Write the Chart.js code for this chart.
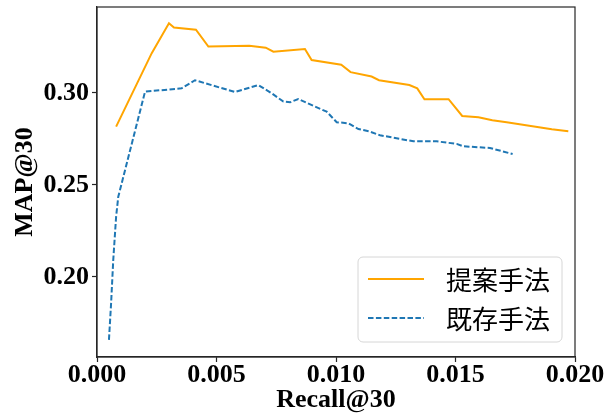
<!DOCTYPE html>
<html>
<head>
<meta charset="utf-8">
<script src="https://cdn.jsdelivr.net/npm/chart.js@4"></script>
<style>
  body { margin: 0; background: #fff; }
  #wrap { width: 614px; height: 414px; }
</style>
</head>
<body>
<div id="wrap"><canvas id="mapChart" width="614" height="414"></canvas></div>
<script>
// values
const recallProposed = [0.00080, 0.00229, 0.00301, 0.00322, 0.00414, 0.00466, 0.00637, 0.00706, 0.00738,
  0.00870, 0.00898, 0.01022, 0.01061, 0.01149, 0.01180, 0.01307, 0.01340, 0.01370, 0.01471, 0.01528,
  0.01596, 0.01654, 0.01714, 0.01903, 0.01972];
const mapProposed = [0.2817, 0.3216, 0.3379, 0.3355, 0.3344, 0.3252, 0.3257, 0.3246, 0.3224,
  0.3239, 0.3179, 0.3153, 0.3113, 0.3089, 0.3069, 0.3043, 0.3025, 0.2966, 0.2966, 0.2875,
  0.2868, 0.2852, 0.2841, 0.2803, 0.2792];

const recallExisting = [0.00050, 0.00059, 0.00068, 0.00080, 0.00089, 0.00201, 0.00354, 0.00410, 0.00577,
  0.00675, 0.00731, 0.00780, 0.00808, 0.00842, 0.00961, 0.01003, 0.01052, 0.01094, 0.01142, 0.01184,
  0.01324, 0.01421, 0.01505, 0.01533, 0.01644, 0.01739];
const mapExisting = [0.1658, 0.1857, 0.2092, 0.2328, 0.2436, 0.3007, 0.3025, 0.3069, 0.3005,
  0.3043, 0.2998, 0.2953, 0.2949, 0.2967, 0.2898, 0.2841, 0.2835, 0.2804, 0.2790, 0.2770,
  0.2737, 0.2737, 0.2723, 0.2710, 0.2701, 0.2668];

const seriesNames = ["提案手法", "既存手法"];
const xTicks = [0, 0.005, 0.01, 0.015, 0.02];
const yTicks = [0.20, 0.25, 0.30];

const ORANGE = "#ffa500";
const BLUE = "#1f77b4";
const serif = "'Liberation Serif', 'Times New Roman', serif";

function pairs(xs, ys) {
  return xs.map((x, i) => ({ x: x, y: ys[i] }));
}

// box around the plot area + legend in the lower right corner
const frameAndLegend = {
  id: "frameAndLegend",
  afterDraw(chart) {
    const { ctx, chartArea: a } = chart;
    ctx.save();
    ctx.strokeStyle = "#262626";
    ctx.lineWidth = 1.2;
    ctx.strokeRect(a.left, a.top, a.right - a.left, a.bottom - a.top);

    // legend box
    const bx = 358, by = 257, bw = 204, bh = 85, r = 5;
    ctx.beginPath();
    ctx.roundRect(bx, by, bw, bh, r);
    ctx.fillStyle = "rgba(255,255,255,0.8)";
    ctx.fill();
    ctx.strokeStyle = "#d6d6d6";
    ctx.lineWidth = 1;
    ctx.stroke();

    const rows = [279, 318];
    chart.data.datasets.forEach((ds, i) => {
      ctx.beginPath();
      ctx.strokeStyle = ds.borderColor;
      ctx.lineWidth = ds.borderWidth;
      ctx.setLineDash(ds.borderDash || []);
      ctx.moveTo(368, rows[i]);
      ctx.lineTo(424, rows[i]);
      ctx.stroke();
      ctx.setLineDash([]);
      ctx.fillStyle = "#000";
      ctx.font = "26px 'Noto Sans CJK JP'";
      ctx.textBaseline = "middle";
      ctx.fillText(ds.label, 446, rows[i] + 1);
    });
    ctx.restore();
  }
};

new Chart(document.getElementById("mapChart"), {
  type: "line",
  data: {
    datasets: [
      {
        label: seriesNames[0],
        data: pairs(recallProposed, mapProposed),
        borderColor: ORANGE,
        borderWidth: 2,
        pointRadius: 0,
        tension: 0,
        fill: false
      },
      {
        label: seriesNames[1],
        data: pairs(recallExisting, mapExisting),
        borderColor: BLUE,
        borderWidth: 2,
        borderDash: [5.5, 2.4],
        pointRadius: 0,
        tension: 0,
        fill: false
      }
    ]
  },
  options: {
    responsive: false,
    animation: false,
    layout: { padding: { top: 7, right: 39, left: 0, bottom: 0 } },
    plugins: {
      legend: { display: false },
      tooltip: { enabled: false }
    },
    scales: {
      x: {
        type: "linear",
        min: 0,
        max: 0.02,
        afterBuildTicks: (s) => { s.ticks = xTicks.map(v => ({ value: v })); },
        afterFit: (s) => { s.height = 57; s.paddingLeft = 0; s.paddingRight = 0; },
        grid: { drawOnChartArea: false, color: "#262626", tickLength: 5, tickWidth: 1.2 },
        border: { color: "#262626", width: 1.2 },
        ticks: {
          color: "#000",
          padding: -2,
          maxRotation: 0,
          font: { family: serif, size: 26, weight: "bold" },
          callback: (v) => Number(v).toFixed(3)
        },
        title: {
          display: true,
          text: "Recall@30",
          color: "#000",
          padding: { top: 0, bottom: 1 },
          font: { family: serif, size: 26, weight: "bold", lineHeight: 1 }
        }
      },
      y: {
        type: "linear",
        min: 0.1565,
        max: 0.3467,
        afterBuildTicks: (s) => { s.ticks = yTicks.map(v => ({ value: v })); },
        afterFit: (s) => { s.width = 97; s.paddingTop = 0; s.paddingBottom = 0; },
        grid: { drawOnChartArea: false, color: "#262626", tickLength: 5, tickWidth: 1.2 },
        border: { color: "#262626", width: 1.2 },
        ticks: {
          color: "#000",
          padding: 3,
          font: { family: serif, size: 26, weight: "bold" },
          callback: (v) => Number(v).toFixed(2)
        },
        title: {
          display: true,
          text: "MAP@30",
          color: "#000",
          padding: { top: 12, bottom: 0 },
          font: { family: serif, size: 26, weight: "bold", lineHeight: 1 }
        }
      }
    }
  },
  plugins: [frameAndLegend]
});
</script>
</body>
</html>
